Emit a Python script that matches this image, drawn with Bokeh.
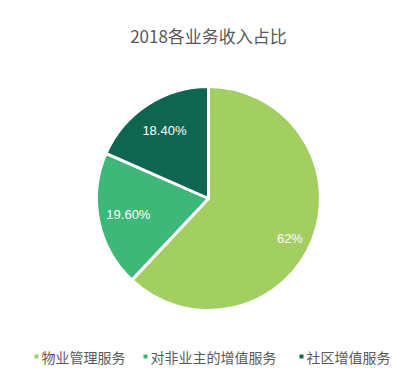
import math
from bokeh.plotting import figure
from bokeh.models import ColumnDataSource
from bokeh.core.properties import value
from bokeh.embed import file_html
from bokeh.resources import INLINE

title = "2018各业务收入占比"
categories = ["物业管理服务", "对非业主的增值服务", "社区增值服务"]
shares = [62.0, 19.6, 18.4]
labels = ["62%", "19.60%", "18.40%"]
colors = ["#A2CE62", "#3DB878", "#0E6650"]

W, H = 400, 368
cx, cy, r = 208, 170, 112

starts, ends, lx, ly = [], [], [], []
acc = 0.0
total = sum(shares)
label_k = [0.81, 0.73, 0.72]
label_da = [-0.08, 0.0, 0.0]
for i, s in enumerate(shares):
    a0 = math.pi / 2 - 2 * math.pi * acc / total
    acc += s
    a1 = math.pi / 2 - 2 * math.pi * acc / total
    starts.append(a1)
    ends.append(a0)
    mid = (a0 + a1) / 2 + label_da[i]
    lx.append(cx + label_k[i] * r * math.cos(mid))
    ly.append(cy + label_k[i] * r * math.sin(mid))

src = ColumnDataSource(dict(start=starts, end=ends, color=colors, lx=lx, ly=ly, label=labels))

p = figure(width=W, height=H, x_range=(0, W), y_range=(0, H), output_backend="svg",
           toolbar_location=None, min_border=0)
p.axis.visible = False
p.grid.visible = False
p.outline_line_color = None
p.background_fill_color = "white"

p.wedge(x=cx, y=cy, radius=r, start_angle="start", end_angle="end", fill_color="color",
        line_color="white", line_width=3, source=src)
p.text(x="lx", y="ly", text="label", source=src, text_color="white", text_font_size="13px",
       text_align="center", text_baseline="middle", text_font=value("Liberation Sans"))

p.text(x=[208], y=[333], text=[title], text_color="#595959", text_font_size="17px",
       text_align="center", text_baseline="middle", text_font=value("Noto Sans CJK SC"))

leg_x = [36, 145, 301]
leg_y = 12
p.scatter(x=leg_x, y=[leg_y] * 3, marker="square", size=4, fill_color=colors, line_color=None)
p.text(x=[x + 5 for x in leg_x], y=[leg_y] * 3, text=categories, text_color="#595959",
       text_font_size="14px", text_align="left", text_baseline="middle",
       text_font=value("Noto Sans CJK SC"))

open("out.html", "w").write(file_html(p, INLINE))
